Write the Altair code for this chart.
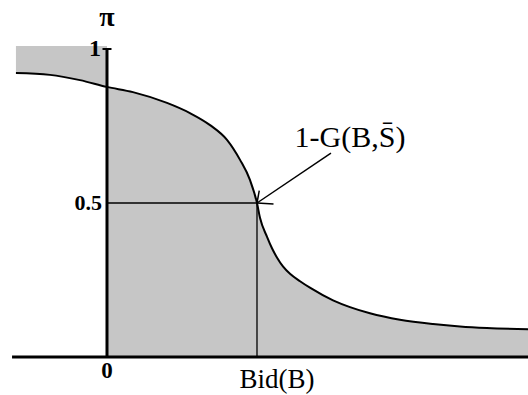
import altair as alt
import pandas as pd

# Probability of acceptance pi as a function of the bid B
bid = [-0.607, -0.38, -0.18, 0.0, 0.173, 0.40, 0.553, 0.687, 0.80, 0.887, 0.953,
       1.0, 1.02, 1.067, 1.10, 1.133, 1.173, 1.22, 1.287, 1.353, 1.507, 1.62,
       1.753, 1.953, 2.173, 2.353, 2.533, 2.807]
prob = [0.922, 0.916, 0.899, 0.877, 0.860, 0.825, 0.792, 0.753, 0.705, 0.640, 0.575,
        0.5, 0.452, 0.39, 0.353, 0.323, 0.294, 0.27, 0.246, 0.225, 0.184, 0.162,
        0.142, 0.121, 0.107, 0.099, 0.094, 0.09]

shade_top = 1.01          # upper edge of the shaded band left of the origin
mid_bid, mid_prob = 1.0, 0.5

# annotation arrow: tail, and the two strokes of its head
arrow_tail = (1.493, 0.662)
head_a = (1.015, 0.54)
head_b = (1.11, 0.497)

curve = pd.DataFrame({"bid": bid, "prob": prob})
left = curve[curve.bid <= 0].assign(top=shade_top)
right = curve[curve.bid >= 0].assign(base=0.0)

X = alt.Scale(domain=[-0.7133, 2.8067], nice=False, zero=False)
Y = alt.Scale(domain=[-0.1234, 1.1591], nice=False, zero=False)
FILL = "#c6c6c6"
SERIF = "Liberation Serif"


def xe(f):
    return alt.X(f, type="quantitative", scale=X, axis=None)


def ye(f):
    return alt.Y(f, type="quantitative", scale=Y, axis=None)


area_left = alt.Chart(left).mark_area(color=FILL, interpolate="monotone").encode(
    x=xe("bid"), y=ye("prob"), y2="top")
area_right = alt.Chart(right).mark_area(color=FILL, interpolate="monotone").encode(
    x=xe("bid"), y=ye("prob"), y2="base")
line = alt.Chart(curve).mark_line(color="black", strokeWidth=2, interpolate="monotone").encode(
    x=xe("bid"), y=ye("prob"))


def segs(rows, width):
    df = pd.DataFrame(rows, columns=["x1", "y1", "x2", "y2"])
    return alt.Chart(df).mark_rule(color="black", strokeWidth=width).encode(
        x=xe("x1"), y=ye("y1"), x2="x2", y2="y2")


axes = segs([[-0.633, 0.0, 2.807, 0.0],   # bid axis
             [0.0, 0.0, 0.0, 1.0]], 3)     # pi axis
cap = segs([[-0.03, 1.0, 0.03, 1.0]], 2)
guides = segs([[0.0, mid_prob, mid_bid, mid_prob],
               [mid_bid, 0.0, mid_bid, mid_prob]], 1.3)
arrow = segs([[arrow_tail[0], arrow_tail[1], mid_bid, mid_prob],
              [mid_bid, mid_prob, head_a[0], head_a[1]],
              [mid_bid, mid_prob, head_b[0], head_b[1]]], 1.5)


def label(x, y, text, size, weight="normal", align="center"):
    df = pd.DataFrame({"x": [x], "y": [y], "t": [text]})
    return alt.Chart(df).mark_text(font=SERIF, fontSize=size, fontWeight=weight,
                                   align=align, baseline="middle", color="black").encode(
        x=xe("x"), y=ye("y"), text="t:N")


texts = [
    label(0.0, 1.1, "π", 28, "bold"),
    label(-0.08, 1.0, "1", 24, "bold"),
    label(-0.033, 0.5, "0.5", 22, "bold", align="right"),
    label(0.0, -0.045, "0", 23, "bold"),
    label(1.133, -0.075, "Bid(B)", 27),
    label(1.62, 0.711, "1-G(B,S\u0304)", 30),
]

chart = alt.layer(area_left, area_right, line, guides, axes, cap, arrow, *texts).properties(
    width=528, height=395, padding=0,
    autosize=alt.AutoSizeParams(type="none"),
).configure_view(stroke=None)

chart.save("out.html", embed_options={"renderer": "svg", "actions": False})
